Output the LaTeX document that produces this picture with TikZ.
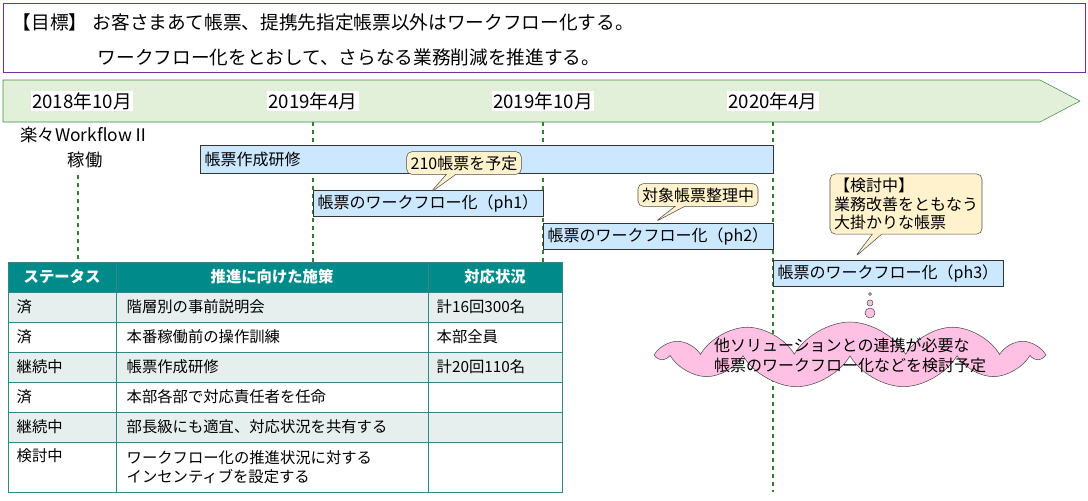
\documentclass[tikz,border=0pt]{standalone}
\usepackage{fontspec}
\setmainfont{Noto Sans CJK JP}
\usetikzlibrary{shapes.symbols,shapes.callouts}
\definecolor{goalline}{HTML}{7030A0}
\definecolor{arrowfill}{HTML}{E2F0D9}
\definecolor{barfill}{HTML}{CCE8FF}
\definecolor{notefill}{HTML}{FFF2CC}
\definecolor{cloudfill}{HTML}{FFC1E3}
\definecolor{teal}{HTML}{008B8B}
\definecolor{rowfill}{HTML}{E7EEEE}
\tikzset{bar/.style={draw=black!80,fill=barfill,anchor=north west,inner sep=0pt}}
\tikzset{note/.style={rectangle callout,draw=black!70,fill=notefill,rounded corners=4pt,
                      font=\fontsize{12}{14}\selectfont,align=left,inner sep=3pt}}
\tikzset{date/.style={fill=white,inner sep=1pt,font=\fontsize{14}{16}\selectfont}}
\tikzset{guide/.style={dashed,draw=black!50!green!60!gray,thick}}
\tikzset{cell/.style={anchor=west,font=\fontsize{11.5}{14}\selectfont,align=left}}
\tikzset{head/.style={font=\bfseries\fontsize{11.5}{14}\selectfont,text=white}}
\begin{document}
\begin{tikzpicture}[x=0.75pt,y=-0.75pt]
    \useasboundingbox (0,0) rectangle (1088,500);
    % Goal box
    \draw[goalline,fill=white] (3,3) rectangle (1085,72);
    \node[anchor=west,font=\fontsize{14}{16}\selectfont] (goal1) at (8,22)
        {【目標】\hspace{0.3em}お客さまあて帳票、提携先指定帳票以外はワークフロー化する。};
    \node[anchor=west,font=\fontsize{14}{16}\selectfont] (goal2) at (93,57)
        {ワークフロー化をとおして、さらなる業務削減を推進する。};
    % Time arrow
    \draw[draw=black!40!green!50!gray,fill=arrowfill]
        (3,80) -- (1040,80) -- (1080,101) -- (1040,122) -- (3,122) -- cycle;
    % Guides
    \draw[guide] (78,175) -- (78,262);
    \draw[guide] (313,122) -- (313,262);
    \draw[guide] (543,122) -- (543,262);
    \draw[guide] (773,122) -- (773,492);
    % Dates
    \foreach \d/\x [count=\di] in {2018年10月/82,2019年4月/313,2019年10月/543,2020年4月/773}{%
        \node[date] (d\di) at (\x,101) {\d};
    }
    \node[font=\fontsize{13}{15}\selectfont] (start) at (85,135) {楽々WorkflowⅡ};
    \node[font=\fontsize{13}{15}\selectfont,below=0pt] (run) at (start.south) {稼働};
    % Bars
    \node[bar,minimum width=573*0.75pt,minimum height=28*0.75pt] (train) at (200,145) {};
    \node[anchor=west,font=\fontsize{12}{14}\selectfont] at (train.west) {帳票作成研修};
    \foreach \n/\x/\y in {1/313/190,2/543/223,3/773/260}{%
        \node[bar,minimum width=230*0.75pt,minimum height=26*0.75pt] (ph\n) at (\x,\y) {};
        \node[anchor=west,font=\fontsize{12}{14}\selectfont] at (ph\n.west) {帳票のワークフロー化（ph\n）};
    }
    % Notes
    \node[note,callout absolute pointer={(430,193)}] (n1) at (464,163) {210帳票を予定};
    \node[note,callout absolute pointer={(655,222)}] (n2) at (698,195) {対象帳票整理中};
    \node[note,callout absolute pointer={(855,257)}] (n3) at (906,204)
        {【検討中】\\業務改善をともなう\\大掛かりな帳票};
    % Thought cloud
    \node[cloud,cloud puffs=11,cloud puff arc=120,aspect=5.5,draw=black!70,fill=cloudfill,
          minimum width=380*0.75pt,minimum height=66*0.75pt,inner sep=0pt] (idea) at (850,355) {};
    \node[font=\fontsize{12}{15}\selectfont,align=left] (ideatext) at (idea.center)
        {他ソリューションとの連携が必要な\\帳票のワークフロー化などを検討予定};
    \draw[draw=black!70,fill=cloudfill] (870,294) circle (1.5) (870,303) circle (3) (870,313) circle (5);
    % Table
    \fill[teal] (8,262) rectangle (562,292);
    \foreach \t/\b [count=\ri] in {292/322,322/352,352/382,382/412,412/442,442/492}{%
        \ifodd\ri \fill[rowfill] (8,\t) rectangle (562,\b); \fi
    }
    \draw[teal!60!gray] (8,262) rectangle (562,492);
    \foreach \y in {292,322,352,382,412,442} \draw[teal!60!gray] (8,\y) -- (562,\y);
    \foreach \x in {116,428} \draw[teal!60!gray] (\x,262) -- (\x,492);
    \node[head] (h1) at (62,277) {ステータス};
    \node[head] (h2) at (272,277) {推進に向けた施策};
    \node[head] (h3) at (495,277) {対応状況};
    \foreach \s/\m/\r/\y in {済/階層別の事前説明会/計16回300名/307,
                            済/本番稼働前の操作訓練/本部全員/337,
                            継続中/帳票作成研修/計20回110名/367,
                            済/本部各部で対応責任者を任命//397,
                            継続中/部長級にも適宜、対応状況を共有する//427}{%
        \node[cell] at (12,\y) {\s};
        \node[cell] at (122,\y) {\m};
        \node[cell] at (432,\y) {\r};
    }
    \node[cell] at (12,456) {検討中};
    \node[cell,anchor=north west] at (122,446) {ワークフロー化の推進状況に対する\\インセンティブを設定する};
\end{tikzpicture}
\end{document}
